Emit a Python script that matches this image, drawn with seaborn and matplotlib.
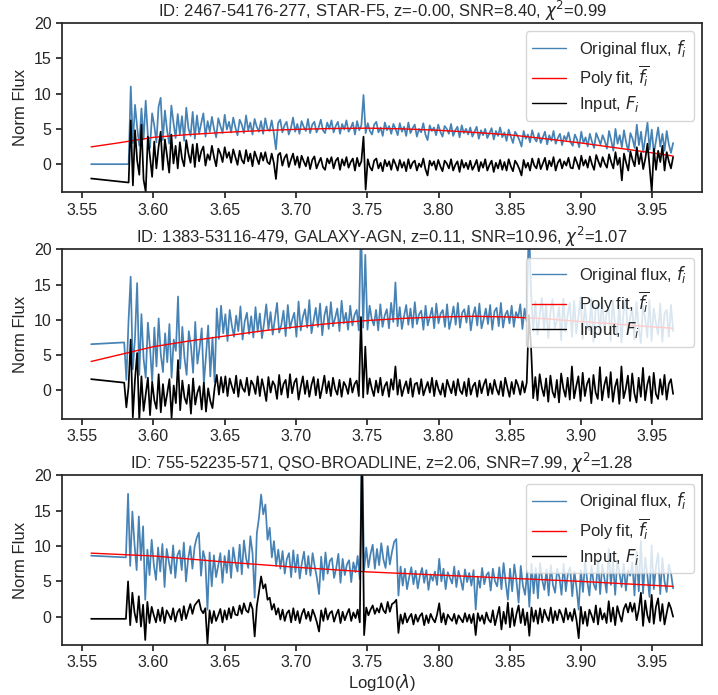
import numpy as np
import matplotlib
matplotlib.use("Agg")
import matplotlib.pyplot as plt
from matplotlib.ticker import MultipleLocator, FormatStrFormatter
import seaborn as sns

# ---------------------------------------------------------------- data
LAM_FIRST = 3.5563          # isolated first pixel of every spectrum
LAM_END = 3.9645            # last pixel

# STAR-F5
star_title = r"ID: 2467-54176-277, STAR-F5, z=-0.00, SNR=8.40, $\chi^2$=0.99"
star_start = 3.5826
star_flux0, star_input0 = 0.0, -2.03
star_flux = [
    0.0, 11.0, 3.0, 8.4, 5.2, 2.6, 7.9, 3.5, 9.0, 4.1, 2.3, 7.2, 5.5, 3.1, 8.1, 9.4,
    3.4, 7.6, 4.8, 2.9, 8.3, 5.9, 3.7, 7.1, 4.2, 6.8, 3.3, 8.0, 5.1, 4.0, 7.4, 3.6,
    6.9, 4.3, 5.8, 7.2, 3.9, 6.1, 4.6, 6.7, 5.0, 3.8, 6.5, 5.4, 4.4, 7.0, 4.9, 6.0,
    4.5, 6.6, 5.2, 4.1, 6.3, 5.6, 4.4, 6.9, 4.8, 5.9, 4.2, 6.4, 5.3, 4.6, 6.1, 4.3,
    6.5, 5.0, 4.7, 6.2, 4.4, 2.1, 5.8, 6.3, 4.5, 5.5, 6.0, 4.2, 5.1, 6.6, 4.6, 5.7,
    4.3, 6.1, 5.3, 4.7, 6.4, 4.4, 5.6, 6.0, 4.5, 5.2, 6.3, 4.8, 4.4, 5.9, 5.0, 6.2,
    4.5, 5.4, 6.0, 4.3, 5.7, 4.9, 6.2, 4.6, 5.1, 5.9, 4.2, 6.1, 4.8, 5.5, 9.8, 4.4,
    5.8, 4.7, 4.2, 5.6, 6.0, 4.5, 5.2, 4.0, 5.9, 4.8, 5.4, 4.3, 5.7, 5.0, 4.1, 5.8,
    4.6, 5.3, 4.0, 5.9, 4.4, 5.1, 5.6, 3.9, 5.0, 4.5, 5.8, 4.2, 3.4, 5.5, 4.7, 5.2,
    4.1, 5.6, 4.6, 3.9, 5.4, 5.0, 4.3, 5.7, 4.0, 4.8, 5.3, 3.8, 5.5, 4.4, 5.0, 4.2,
    5.2, 3.9, 4.6, 5.3, 3.6, 4.8, 4.1, 5.0, 3.7, 4.4, 5.1, 3.5, 4.7, 4.0, 5.2, 3.8,
    4.5, 3.3, 4.9, 3.9, 3.0, 4.6, 4.1, 3.4, 2.5, 4.7, 3.6, 4.2, 3.1, 4.8, 3.7, 3.2,
    4.4, 3.0, 3.8, 4.6, 2.8, 4.1, 3.3, 4.7, 2.9, 3.7, 4.3, 2.7, 4.0, 3.4, 4.5, 3.1,
    2.6, 4.2, 3.5, 2.4, 4.6, 3.0, 3.8, 2.5, 4.3, 3.2, 2.3, 4.4, 3.6, 2.8, 4.1, 3.3,
    2.2, 4.7, 3.4, 1.9, 5.0, 2.9, 4.1, 2.4, 4.8, 3.1, 1.8, 4.4, 3.6, 2.3, 5.6, 2.7,
    4.6, 1.7, 3.8, 5.9, 2.1, 4.9, 1.5, 3.4, 5.2, 2.5, 4.3, 1.9, 4.7, 2.8, 1.6, 3.0,
]
star_input = [
    -2.6, 6.2, -3.0, 4.8, 0.5, -1.5, 5.6, -2.2, -3.9, 3.9, 1.0, -1.8, 3.2, -0.6, 2.4, 4.6,
    -0.8, 3.5, 1.2, -1.2, 4.2, 0.1, 2.6, -0.6, 3.1, 0.8, -0.3, 3.4, 1.5, 0.2, 2.8, -0.4,
    2.9, 0.4, 1.8, 2.5, -0.2, 1.4, 0.6, 2.6, 1.0, -0.3, 2.2, 1.5, 0.3, 2.4, 0.9, 1.7,
    0.2, 2.1, 1.0, -0.1, 1.9, 0.6, 0.1, 2.0, 0.4, 1.5, -0.3, 1.8, 0.9, 0.0, 1.6, 0.5,
    1.7, 0.3, 0.0, 1.5, 0.2, -2.1, 1.3, 1.6, -0.2, 0.9, 1.4, -0.4, 0.6, 1.5, -0.1, 1.1,
    -0.5, 1.2, 0.4, -0.3, 1.0, -0.7, 0.6, 1.1, -0.6, 0.2, 0.9, -0.4, -0.8, 0.8, 0.1, 1.0,
    -0.6, 0.5, 0.9, -0.8, 0.7, -0.2, 1.0, -0.5, 0.3, 0.8, -0.9, 0.9, -0.3, 0.4, 3.9, -3.6,
    0.7, -0.4, -0.9, 0.5, 0.8, -0.6, 0.2, -1.0, 0.6, -0.3, 0.4, -0.8, 0.7, 0.0, -0.9, 0.6,
    -0.5, 0.3, -1.0, 0.7, -0.6, 0.2, 0.5, -0.9, 0.1, -0.4, 0.8, -0.7, -1.6, 0.5, -0.2, 0.4,
    -0.8, 0.6, -0.3, -1.0, 0.5, 0.1, -0.6, 0.7, -0.9, -0.1, 0.4, -1.1, 0.6, -0.5, 0.2, -0.7,
    0.5, -0.8, -0.2, 0.6, -1.0, 0.3, -0.5, 0.7, -0.9, -0.1, 0.5, -1.1, 0.2, -0.6, 0.6, -0.8,
    0.3, -0.9, 0.7, -0.3, -1.0, 0.5, 0.0, -0.7, -1.6, 0.6, -0.5, 0.2, -0.9, 0.8, -0.2, -0.6,
    0.8, -0.7, 0.1, 0.9, -0.8, 0.5, -0.3, 1.0, -0.9, 0.2, 0.7, -0.6, 0.4, -0.2, 0.9, -0.5,
    -0.6, 1.0, 0.2, -0.7, 1.2, -0.2, 0.6, -0.5, 1.1, 0.0, -0.8, 1.3, 0.4, -0.4, 1.0, 0.1,
    -0.5, 1.4, 0.3, -0.6, 1.7, -0.1, 0.9, -2.3, 1.5, 0.2, -0.9, 1.8, 0.6, -0.3, 2.4, 0.0,
    1.6, -0.7, 0.8, 2.9, -0.4, -3.9, 2.2, -0.8, 1.9, 0.3, 2.6, -0.9, 1.7, 0.4, -0.6, 1.0,
]
star_fit_lam = [3.5563, 3.575, 3.60, 3.625, 3.65, 3.675, 3.70, 3.725, 3.75,
                3.775, 3.80, 3.825, 3.85, 3.875, 3.90, 3.925, 3.95, 3.9645]
star_fit = [2.45, 3.0, 3.8, 4.2, 4.5, 4.75, 4.93, 5.05, 5.1,
            5.0, 4.8, 4.5, 4.15, 3.6, 3.0, 2.3, 1.6, 1.15]

# GALAXY-AGN
agn_title = r"ID: 1383-53116-479, GALAXY-AGN, z=0.11, SNR=10.96, $\chi^2$=1.07"
agn_start = 3.5795
agn_flux0, agn_input0 = 6.55, 1.6
agn_flux = [
    6.8, 1.5, 9.8, 16.1, 3.0, 7.4, 15.2, 2.2, 10.8, 4.5, 1.8, 9.6, 6.0, 1.2, 8.9, 3.4,
    10.2, 5.1, 2.6, 8.1, 4.0, 9.4, 1.8, 7.2, 5.6, 13.3, 3.1, 9.0, 4.6, 2.2, 8.4, 6.3,
    2.5, 9.7, 3.8, 6.0, 8.8, 1.0, 4.9, 9.2, 2.0, 7.5, 1.2, 11.6, 7.3, 12.0, 8.1, 10.8,
    7.0, 11.4, 9.2, 7.6, 10.6, 8.4, 11.9, 7.2, 9.8, 11.0, 8.0, 10.5, 7.5, 11.8, 8.3, 10.9,
    7.4, 9.6, 12.2, 8.6, 11.1, 7.9, 10.2, 12.4, 8.2, 9.3, 11.3, 7.7, 12.1, 8.8, 10.0, 11.0,
    7.6, 12.6, 8.5, 10.4, 11.5, 8.9, 12.8, 8.1, 9.9, 11.7, 9.0, 12.3, 7.8, 10.6, 11.9, 8.7,
    12.5, 9.1, 10.3, 11.6, 8.4, 12.7, 9.5, 11.0, 8.6, 12.0, 9.2, 10.7, 11.4, 8.5, 24.0, 8.9,
    19.2, 8.6, 12.0, 10.1, 9.2, 11.4, 8.5, 12.2, 9.0, 10.6, 11.5, 8.8, 12.4, 9.7, 15.3, 9.1,
    11.8, 8.7, 10.5, 12.1, 9.3, 11.6, 8.9, 12.5, 9.4, 10.8, 11.3, 8.6, 12.0, 9.2, 10.4, 11.7,
    8.8, 12.3, 9.5, 10.9, 11.4, 9.0, 12.2, 8.7, 10.2, 11.9, 9.3, 12.4, 8.9, 11.0, 11.5, 9.6,
    12.0, 8.5, 10.6, 11.8, 9.2, 12.3, 8.8, 10.1, 11.6, 9.4, 12.1, 8.6, 11.2, 11.7, 9.1, 12.4,
    8.9, 10.7, 11.3, 9.5, 12.0, 9.0, 11.1, 10.3, 12.2, 8.7, 11.6, 9.8, 24.0, 14.0, 8.4, 12.6,
    7.9, 10.5, 13.1, 8.6, 12.2, 7.4, 11.0, 12.9, 8.8, 9.9, 11.8, 7.1, 13.0, 8.3, 10.7, 12.4,
    7.6, 12.7, 8.1, 10.4, 13.2, 7.3, 12.1, 9.2, 8.5, 12.9, 6.9, 11.5, 12.3, 7.8, 13.3, 8.2,
    10.8, 11.9, 7.0, 12.8, 9.4, 7.7, 12.2, 6.8, 11.1, 13.0, 8.0, 10.2, 11.7, 7.2, 12.5, 9.0,
    6.7, 12.0, 10.3, 7.5, 12.8, 7.0, 11.6, 9.6, 7.9, 12.3, 6.9, 10.9, 11.4, 7.6, 12.1, 8.4,
]
agn_input = [
    1.1, -2.4, 0.5, 7.2, -3.8, 1.5, 5.3, -4.2, 2.0, -2.9, -0.6, 1.8, -3.5, 1.2, -1.4, -2.6,
    2.3, -3.1, 0.9, -2.2, -0.4, 1.6, -3.9, 0.7, -1.8, 4.3, -2.8, 1.4, -1.0, -1.9, 0.8, -3.3,
    1.7, -2.0, -0.3, 0.6, -2.7, 1.1, -3.0, 0.3, -1.5, -2.5, 0.4, 2.2, -0.6, 1.9, -0.3, 2.0,
    -0.8, 1.7, 0.6, -0.4, 2.1, -0.9, 1.5, 0.3, -0.2, 1.8, -0.7, 1.4, 0.8, -0.5, 2.0, -0.8,
    1.6, 0.2, -1.5, 1.9, -0.3, 1.3, 0.7, -1.2, 2.2, -0.6, 0.9, 1.5, -1.0, 2.3, -0.4, 1.1,
    1.7, -1.3, 0.5, 2.0, -0.5, 1.4, -0.9, 0.8, 1.9, -0.7, 1.6, -1.1, 0.4, 2.1, -0.4, 1.3,
    -0.8, 1.8, 0.2, -0.6, 1.5, -0.9, 1.2, 0.6, -0.5, 1.7, -0.3, 0.9, 1.4, -0.8, 10.4, -1.0,
    6.2, -0.5, 1.7, 0.3, -0.8, 1.4, -0.3, 1.8, -0.7, 0.6, 1.2, -0.9, 1.6, 0.1, 3.4, -0.6,
    1.5, -0.8, 0.4, 1.3, -0.4, 1.7, -0.9, 0.9, 1.1, -0.5, 1.6, -0.7, 0.3, 1.2, -0.3, 1.8,
    -0.8, 1.4, 0.2, -0.6, 1.0, -0.9, 1.5, 0.5, -0.4, 1.3, -0.7, 1.6, 0.0, -0.5, 1.2, -0.8,
    1.7, -0.6, 0.6, 1.1, -0.9, 1.4, -0.4, 0.8, 1.6, -0.7, 1.0, -0.5, 1.5, 0.2, -0.6, 1.3,
    -0.8, 1.8, 0.4, -0.9, 1.2, -0.5, 1.5, 0.7, -0.6, 1.3, -0.3, 1.1, 10.7, 6.2, -1.1, 1.9,
    -1.4, 2.3, 0.4, -0.8, 1.7, -1.6, 2.1, -0.2, -1.0, 1.5, -1.7, 2.4, 0.3, -0.9, 1.8, -1.3,
    3.4, -1.1, 0.6, 2.0, -1.5, 2.5, -0.8, 0.9, 1.7, -1.8, 2.2, -0.3, -1.2, 3.3, -1.4, 0.7,
    1.9, -1.0, 2.6, -1.6, 0.5, 1.6, -1.9, 3.4, -1.1, 0.2, 2.1, -1.5, 2.4, -0.4, -1.7, 1.8,
    -0.9, 3.2, -1.4, 0.8, 2.0, -1.8, 2.5, -0.5, -1.2, 1.6, -0.6, 2.2, -1.3, 0.9, 1.6, -0.5,
]
agn_fit_lam = [3.5563, 3.575, 3.60, 3.625, 3.65, 3.675, 3.70, 3.725, 3.75,
               3.775, 3.80, 3.825, 3.85, 3.875, 3.90, 3.925, 3.95, 3.9645]
agn_fit = [4.1, 5.0, 6.2, 7.0, 7.7, 8.4, 9.0, 9.5, 9.9,
           10.2, 10.4, 10.5, 10.4, 10.15, 9.75, 9.4, 9.0, 8.8]

# QSO-BROADLINE
qso_title = r"ID: 755-52235-571, QSO-BROADLINE, z=2.06, SNR=7.99, $\chi^2$=1.28"
qso_start = 3.5807
qso_flux0, qso_input0 = 8.64, -0.3
qso_flux = [
    8.4, 17.4, 7.2, 14.9, 10.3, 6.6, 14.2, 8.0, 12.8, 2.4, 9.5, 5.9, 10.9, 7.4, 5.2, 9.8,
    6.4, 10.3, 4.2, 9.6, 7.8, 6.1, 10.1, 5.5, 8.7, 9.4, 6.6, 10.5, 5.0, 8.2, 10.0, 6.8,
    9.9, 11.2, 11.9, 5.8, 9.3, 8.0, 1.0, 9.1, 4.3, 8.7, 5.6, 7.2, 9.0, 4.8, 8.6, 6.2,
    9.4, 5.5, 9.8, 7.7, 6.4, 10.2, 6.0, 10.8, 8.3, 6.9, 11.4, 9.0, 2.7, 11.8, 14.0, 17.3,
    14.5, 15.9, 10.9, 12.6, 8.4, 10.7, 7.2, 9.5, 6.8, 9.3, 6.1, 8.2, 9.0, 5.6, 9.4, 6.3,
    8.8, 5.4, 7.6, 9.2, 6.0, 8.6, 5.8, 9.0, 7.1, 5.5, 3.2, 8.5, 5.2, 9.1, 6.1, 7.9,
    8.3, 5.5, 6.9, 8.9, 4.8, 8.2, 5.9, 7.4, 8.0, 4.9, 7.7, 6.3, 8.6, 5.3, 24.0, 6.6,
    9.8, 7.0, 8.9, 10.2, 6.8, 9.6, 7.3, 10.4, 8.1, 6.9, 10.0, 7.4, 9.2, 10.6, 11.0, 3.0,
    7.1, 4.4, 6.8, 3.9, 5.6, 7.0, 4.6, 6.5, 4.0, 5.8, 6.9, 4.8, 6.6, 3.8, 6.0, 5.1,
    6.4, 4.5, 8.2, 5.0, 6.8, 3.9, 6.3, 5.5, 4.7, 7.1, 4.2, 6.5, 5.3, 3.8, 6.7, 4.9,
    6.2, 4.4, 6.6, 1.0, 5.7, 4.1, 6.9, 4.6, 5.9, 6.3, 3.7, 6.8, 5.0, 4.3, 7.0, 3.9,
    7.6, 4.8, 2.4, 6.8, 3.6, 7.4, 5.1, 2.0, 7.2, 4.4, 3.1, 6.5, 1.4, 7.5, 3.3, 6.9,
    2.6, 7.6, 5.2, 3.8, 6.7, 3.0, 7.3, 4.5, 3.4, 6.8, 5.6, 3.1, 7.5, 3.6, 6.2, 7.0,
    2.9, 6.4, 4.1, 1.0, 6.6, 3.5, 7.9, 5.0, 3.0, 7.2, 4.6, 3.8, 8.1, 3.2, 7.4, 5.4,
    3.4, 9.6, 4.5, 7.8, 3.1, 8.0, 6.2, 4.2, 7.5, 3.7, 6.6, 5.8, 7.7, 3.0, 9.2, 3.6,
    10.7, 3.3, 8.4, 5.9, 2.8, 10.1, 3.9, 7.1, 9.0, 3.2, 8.3, 5.0, 3.5, 7.4, 6.2, 4.0,
]
qso_input = [
    -0.3, 5.0, -1.2, 3.4, 0.6, -0.8, 2.9, -1.4, 1.7, -3.3, 2.1, -0.9, 1.4, 0.2, -0.8, 1.0,
    -0.6, 1.3, -0.9, 0.9, 0.3, -0.4, 1.2, -0.7, 0.6, 1.1, -0.5, 1.5, -0.3, 0.8, 1.8, 0.4,
    1.6, 2.0, 2.4, 1.0, 0.5, 1.2, -3.8, 0.9, -0.9, 0.8, -0.6, 0.2, 1.1, -0.8, 0.9, -0.4,
    1.2, -0.2, 1.4, 0.3, 0.2, 1.6, 0.4, 1.9, 0.9, 0.6, 2.0, 1.1, -2.8, 1.5, 3.5, 5.7,
    4.0, 4.6, 2.4, 2.7, 1.0, 1.8, 0.3, 1.2, -0.4, 1.0, -0.6, 0.5, 0.9, -0.8, 1.2, -0.5,
    0.8, -0.9, 0.4, 1.1, -0.3, 0.7, -0.6, 1.0, 0.2, -0.8, -2.1, 0.9, -0.6, 1.2, -0.4, 0.5,
    0.8, -0.7, 0.3, 1.0, -0.9, 0.7, -0.5, 0.4, 1.1, -0.6, 0.6, -0.2, 1.0, -0.8, 25.0, -2.6,
    1.3, 0.2, 1.0, 1.6, 0.4, 1.2, 0.6, 1.9, 0.9, 0.5, 2.1, 0.7, 1.8, 2.0, 2.4, -2.3,
    0.3, -1.0, 0.5, -0.8, -0.1, 0.4, -1.1, 0.3, -0.7, 0.1, 0.5, -1.2, 0.2, -0.9, 0.4, -0.3,
    -0.8, 0.3, 1.9, -0.8, 0.5, -1.1, 0.3, -0.2, -0.6, 0.4, -1.0, 0.2, -0.3, -0.8, 0.5, -0.7,
    0.3, -0.9, 0.4, -2.6, 0.5, -0.6, 0.2, -1.0, 0.6, -0.4, -0.8, 0.9, -1.2, 0.1, 1.4, -1.8,
    0.7, -1.0, 2.0, -1.5, 1.2, -1.3, 0.4, 1.6, -0.9, 1.1, -1.2, 0.6, -2.7, 1.3, -0.7, 0.9,
    -1.0, 1.2, -0.8, 1.0, 0.1, -0.6, 1.3, -0.9, 0.8, -0.5, 1.0, 0.3, -0.8, 1.2, -0.4, 0.6,
    -0.6, 1.1, -0.5, -3.05, 1.4, -1.0, 0.7, -1.3, 1.0, 0.2, -0.8, 1.6, -1.1, 1.2, -0.4, 0.5,
    -0.9, 2.2, -0.7, 1.3, -1.2, 1.5, 0.3, -0.7, 1.1, 1.8, 0.6, 2.0, 0.7, 1.9, -0.5, 1.0,
    3.4, -1.3, 2.3, 0.2, -0.8, 3.1, -1.0, 1.4, 2.6, -0.6, 1.8, -1.1, 0.5, 2.0, 1.2, 0.0,
]
qso_fit_lam = [3.5563, 3.60, 3.65, 3.70, 3.75, 3.80, 3.85, 3.90, 3.95, 3.9645]
qso_fit = [9.0, 8.6, 7.75, 7.0, 6.35, 5.9, 5.45, 5.0, 4.45, 4.3]

# ---------------------------------------------------------------- style
sns.set_theme(context="notebook", style="ticks")
plt.rcParams["font.family"] = ["Liberation Sans", "DejaVu Sans"]
plt.rcParams.update({
    "xtick.major.size": 4, "ytick.major.size": 4,
    "xtick.labelsize": 11.5, "ytick.labelsize": 11.5,
    "legend.fontsize": 12,
})

FLUX_COLOR = "steelblue"
FIT_COLOR = "red"
INPUT_COLOR = "black"
SPEC_LW = 1.25

panels = [
    (star_title, star_start, star_flux0, star_flux, star_input0, star_input,
     star_fit_lam, star_fit),
    (agn_title, agn_start, agn_flux0, agn_flux, agn_input0, agn_input,
     agn_fit_lam, agn_fit),
    (qso_title, qso_start, qso_flux0, qso_flux, qso_input0, qso_input,
     qso_fit_lam, qso_fit),
]


def pixel_grid(start, n):
    """First isolated pixel followed by n evenly spaced log-wavelength pixels."""
    return np.concatenate([[LAM_FIRST], np.linspace(start, LAM_END, n)])


fig, axes = plt.subplots(3, 1, figsize=(7.18, 6.95), dpi=100)
fig.subplots_adjust(left=0.0864, right=0.978, top=0.967, bottom=0.072,
                    hspace=0.335)

for ax, (title, start, f0, flux, in0, inp, fit_lam, fit) in zip(axes, panels):
    sns.lineplot(x=pixel_grid(start, len(flux)), y=[f0] + flux, ax=ax,
                 color=FLUX_COLOR, lw=SPEC_LW, sort=False, estimator=None,
                 label=r"Original flux, $f_i$")
    sns.lineplot(x=fit_lam, y=fit, ax=ax, color=FIT_COLOR, lw=1.0,
                 sort=False, estimator=None, label=r"Poly fit, $\overline{f_i}$")
    sns.lineplot(x=pixel_grid(start, len(inp)), y=[in0] + inp, ax=ax,
                 color=INPUT_COLOR, lw=SPEC_LW, sort=False, estimator=None,
                 label=r"Input, $F_i$")

    ax.set_ylim(-4, 20)
    ax.set_yticks([0, 5, 10, 15, 20])
    ax.xaxis.set_major_locator(MultipleLocator(0.05))
    ax.xaxis.set_major_formatter(FormatStrFormatter("%.2f"))
    ax.set_title(title, fontsize=12, pad=4)
    ax.set_ylabel("Norm Flux", fontsize=12)
    ax.set_xlabel("")
    leg = ax.legend(loc="upper right", labelspacing=0.3)
    for line in leg.get_lines():
        line.set_linewidth(1.0)

axes[-1].set_xlabel(r"Log10($\lambda$)", fontsize=12, labelpad=1)

fig.savefig("out.png", dpi=100)
